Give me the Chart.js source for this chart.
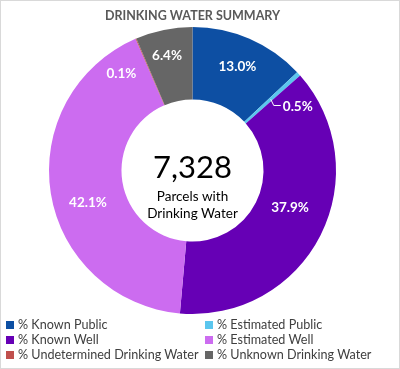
<!DOCTYPE html>
<html>
<head>
<meta charset="utf-8">
<script src="https://cdn.jsdelivr.net/npm/chart.js@4.4.1/dist/chart.umd.min.js"></script>
<style>
  html, body { margin:0; padding:0; background:#fff; }
  #wrap { position:relative; width:400px; height:369px; overflow:hidden; font-family: Lato, "Liberation Sans", sans-serif; }
  #c { position:absolute; left:0; top:0; }
  #frame { position:absolute; left:0; top:0; width:398px; height:367px; border:1px solid #d9d9d9; pointer-events:none; }
  #legend { position:absolute; left:0; top:317px; width:400px; }
  .li { position:absolute; font-size:12.6px; color:#404040; white-space:nowrap; line-height:15px; }
  .li i { display:inline-block; width:8px; height:8px; margin-right:4px; vertical-align:0px; }
</style>
</head>
<body>
<div id="wrap">
  <canvas id="c" width="400" height="369"></canvas>
  <div id="legend"></div>
  <div id="frame"></div>
</div>
<script>
const titleText = "DRINKING WATER SUMMARY";
const categories = ["% Known Public", "% Estimated Public", "% Known Well", "% Estimated Well", "% Undetermined Drinking Water", "% Unknown Drinking Water"];
const values = [13.0, 0.5, 37.9, 42.1, 0.1, 6.4];
const colors = ["#0D4FA3", "#5BC6EE", "#6600B5", "#CC6CF0", "#C0504D", "#666666"];
const totalParcels = "7,328";
const centerLines = ["Parcels with", "Drinking Water"];

// label placement tweaks (style): angle shift in degrees, radial fraction, leader line
const labelShift = [0, 11, -6, -8, -13, -1];
const labelFrac = [0.58, 0.72, 0.46, 0.53, 0.68, 0.64];
const leader = [false, true, false, false, false, false];

const labelPlugin = {
  id: 'sliceLabels',
  afterDatasetsDraw(chart) {
    const ctx = chart.ctx;
    const meta = chart.getDatasetMeta(0);
    ctx.save();
    ctx.font = "bold 13.5px Lato, 'Liberation Sans', sans-serif";
    ctx.fillStyle = "#ffffff";
    ctx.textAlign = "center";
    ctx.textBaseline = "middle";
    meta.data.forEach((arc, i) => {
      const p = arc.getProps(['x','y','startAngle','endAngle','innerRadius','outerRadius'], true);
      const mid = (p.startAngle + p.endAngle) / 2;
      const a = mid + labelShift[i] * Math.PI / 180;
      const r = p.innerRadius + labelFrac[i] * (p.outerRadius - p.innerRadius);
      let lx = p.x + Math.cos(a) * r;
      let ly = p.y + Math.sin(a) * r;
      const txt = values[i].toFixed(1) + "%";
      if (leader[i]) {
        const r0 = p.innerRadius + 0.48 * (p.outerRadius - p.innerRadius);
        const sx = p.x + Math.cos(mid) * r0, sy = p.y + Math.sin(mid) * r0;
        const w = ctx.measureText(txt).width;
        ctx.strokeStyle = "#ffffff";
        ctx.lineWidth = 1;
        ctx.beginPath();
        ctx.moveTo(sx, sy);
        ctx.lineTo(sx + 3, ly - 1);
        ctx.lineTo(lx - w / 2 - 2, ly - 1);
        ctx.stroke();
      }
      ctx.fillText(txt, lx, ly);
    });
    // center text
    const a0 = meta.data[0];
    const cx = a0.x, cy = a0.y;
    ctx.fillStyle = "#000000";
    ctx.font = "31px Lato, 'Liberation Sans', sans-serif";
    ctx.fillText(totalParcels, cx, cy - 3);
    ctx.font = "13.5px Lato, 'Liberation Sans', sans-serif";
    ctx.fillText(centerLines[0], cx, cy + 26);
    ctx.fillText(centerLines[1], cx, cy + 43);
    ctx.restore();
  }
};

new Chart(document.getElementById('c'), {
  type: 'doughnut',
  data: {
    labels: categories,
    datasets: [{ data: values, backgroundColor: colors, borderWidth: 0, hoverOffset: 0 }]
  },
  options: {
    responsive: false,
    animation: false,
    cutout: '49.5%',
    layout: { padding: { left: 49, right: 64, top: 0, bottom: 55 } },
    plugins: {
      legend: { display: false },
      tooltip: { enabled: false },
      title: {
        display: true,
        text: titleText,
        color: "#595959",
        font: { family: "Lato, 'Liberation Sans', sans-serif", size: 12.5, weight: 'bold' },
        padding: { top: 8, bottom: 4 }
      }
    }
  },
  plugins: [labelPlugin]
});

// HTML legend built from the arrays
const leg = document.getElementById('legend');
categories.forEach((name, i) => {
  const d = document.createElement('div');
  d.className = 'li';
  d.style.left = (i % 2 === 0 ? 6 : 205) + 'px';
  d.style.top = (Math.floor(i / 2) * 15) + 'px';
  d.innerHTML = '<i style="background:' + colors[i] + '"></i>' + name;
  leg.appendChild(d);
});
</script>
</body>
</html>
